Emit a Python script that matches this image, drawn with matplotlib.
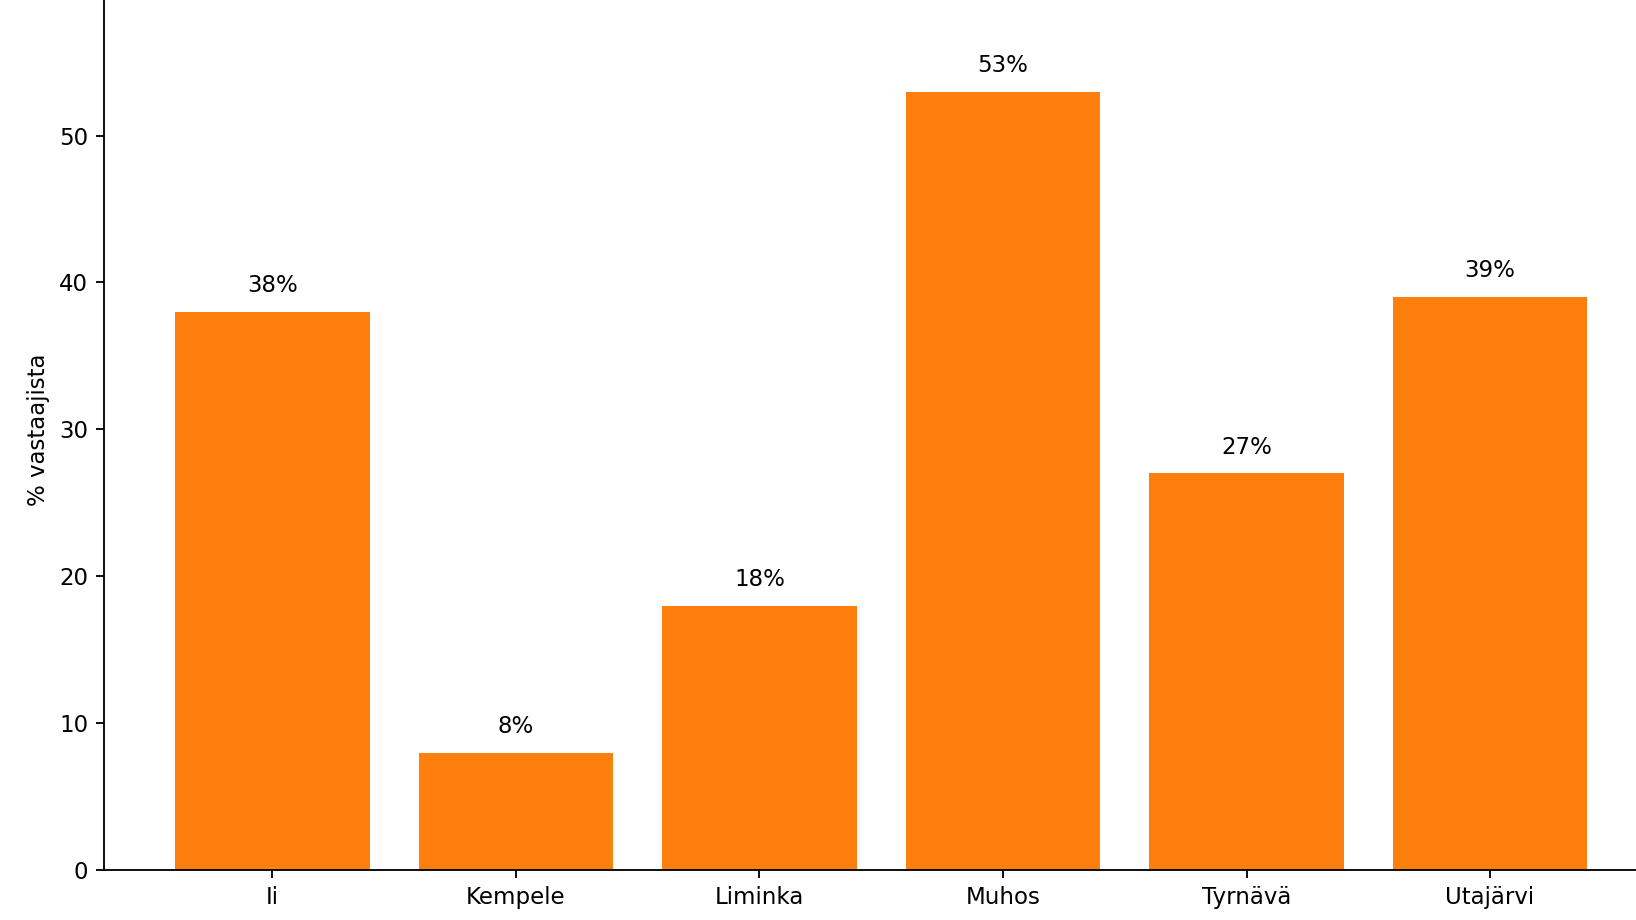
import matplotlib
matplotlib.use("Agg")
import matplotlib.pyplot as plt

# data
kunnat = ["Ii", "Kempele", "Liminka", "Muhos", "Tyrnävä", "Utajärvi"]
osuudet = [38, 8, 18, 53, 27, 39]

fig = plt.figure(figsize=(1636 / 165, 920 / 165), dpi=165)
# axes run past the top and right edge, like a cropped screenshot
ax = fig.add_axes([0.0638, 0.0543, 0.9497, 0.958])

ax.bar(kunnat, osuudet, color="#ff7f0e", width=0.8)
for i, v in enumerate(osuudet):
    ax.text(i, v + 1, f"{v}%", ha="center", va="bottom", fontsize=10)

ax.set_ylim(0, 60)
ax.set_yticks([0, 10, 20, 30, 40, 50])
ax.set_ylabel("% vastaajista")
ax.spines["top"].set_visible(False)
ax.spines["right"].set_visible(False)

fig.savefig("out.png", dpi=165)
